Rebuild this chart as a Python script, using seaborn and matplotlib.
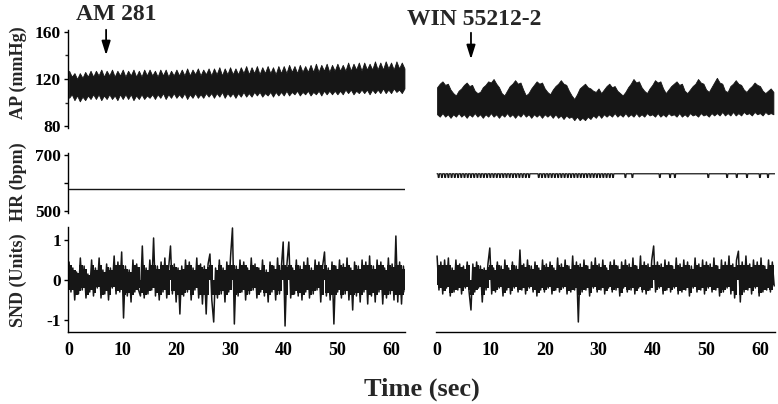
import numpy as np
import pandas as pd
import seaborn as sns
import matplotlib.pyplot as plt

# arterial pressure band (mmHg), upper / lower edge every 0.5 s
ap_step = 0.5
ap_am_upper = [
    127, 122, 125, 120, 125, 121, 126, 122, 127, 122,
    127, 123, 128, 122, 127, 123, 128, 122, 127, 123,
    128, 122, 127, 123, 128, 122, 127, 122, 128, 123,
    128, 123, 127, 122, 128, 123, 128, 122, 127, 123,
    128, 123, 128, 123, 129, 123, 128, 124, 129, 123,
    128, 124, 129, 123, 129, 124, 130, 123, 129, 124,
    130, 124, 129, 124, 130, 125, 131, 124, 130, 125,
    131, 124, 130, 125, 131, 125, 130, 124, 131, 125,
    131, 125, 132, 126, 131, 125, 132, 126, 131, 126,
    132, 126, 133, 126, 132, 127, 133, 126, 132, 127,
    133, 127, 132, 127, 134, 127, 133, 128, 134, 127,
    134, 128, 133, 128, 135, 128, 134, 128, 135, 129,
    134, 128, 135, 129, 134, 129]
ap_am_lower = [
    104, 107, 102, 106, 101, 105, 102, 106, 103, 107,
    103, 107, 102, 106, 103, 107, 103, 106, 102, 107,
    103, 107, 103, 107, 102, 106, 103, 107, 103, 106,
    104, 107, 103, 107, 104, 108, 103, 107, 104, 108,
    104, 107, 104, 108, 103, 107, 104, 108, 104, 107,
    104, 108, 105, 108, 104, 108, 105, 109, 104, 108,
    105, 108, 104, 108, 105, 109, 105, 108, 105, 109,
    106, 109, 105, 108, 106, 109, 105, 109, 106, 109,
    106, 110, 106, 109, 107, 110, 106, 109, 107, 110,
    106, 109, 107, 110, 106, 110, 107, 110, 107, 110,
    107, 110, 107, 111, 108, 111, 107, 110, 108, 111,
    108, 111, 107, 111, 108, 111, 108, 112, 108, 111,
    108, 112, 109, 111, 108, 112]
ap_win_upper = [
    113, 116, 118, 115, 116, 111, 108, 106, 110, 112,
    115, 117, 114, 115, 110, 108, 109, 113, 115, 118,
    117, 120, 116, 113, 108, 106, 110, 114, 116, 119,
    116, 117, 111, 106, 108, 112, 115, 118, 116, 117,
    112, 109, 107, 111, 114, 116, 119, 116, 115, 110,
    106, 103, 107, 112, 114, 116, 113, 112, 110, 109,
    112, 108, 111, 114, 116, 113, 114, 110, 108, 106,
    109, 113, 116, 120, 117, 118, 113, 110, 108, 112,
    115, 119, 117, 118, 112, 108, 111, 114, 116, 118,
    115, 116, 110, 108, 111, 114, 116, 120, 117, 116,
    111, 109, 113, 117, 121, 117, 116, 110, 109, 114,
    116, 119, 116, 115, 111, 109, 112, 114, 117, 115,
    114, 110, 108, 110, 112, 109]
ap_win_lower = [
    90, 88, 91, 88, 90, 87, 90, 88, 91, 88,
    90, 87, 90, 88, 91, 88, 90, 87, 90, 88,
    91, 88, 90, 87, 90, 88, 91, 88, 90, 87,
    90, 88, 91, 88, 90, 87, 90, 88, 90, 87,
    90, 88, 90, 87, 90, 87, 89, 86, 89, 87,
    88, 85, 88, 85, 87, 85, 88, 86, 89, 87,
    90, 87, 90, 88, 90, 88, 91, 88, 90, 88,
    91, 88, 90, 88, 91, 88, 90, 88, 91, 89,
    90, 88, 91, 88, 90, 88, 91, 89, 90, 88,
    91, 88, 90, 88, 91, 89, 90, 88, 91, 89,
    90, 88, 91, 89, 91, 89, 92, 89, 91, 89,
    92, 89, 91, 89, 92, 90, 91, 89, 92, 90,
    91, 89, 92, 90, 91, 90]

# heart rate (bpm)
hr_am = 579
hr_win_base = 633
hr_win_dip = 620
hr_win_dips = [
    0.3, 0.9, 1.5, 2.1, 2.7, 3.3, 3.9, 4.5, 5.1, 5.7, 6.3, 6.9, 7.5, 8.1,
    8.7, 9.3, 9.9, 10.5, 11.1, 11.7, 12.3, 12.9, 13.5, 14.1, 14.7, 15.3,
    15.9, 16.5, 17.1, 18.9, 19.5, 20.1, 20.7, 21.3, 21.9, 22.5, 23.1, 23.7,
    24.3, 24.9, 25.5, 26.1, 26.7, 27.3, 27.9, 28.5, 29.1, 29.7, 30.3, 30.9,
    31.5, 32.1, 32.7, 35.0, 36.3, 41.4, 43.3, 44.2, 50.4, 53.9, 55.7, 57.6,
    60.0, 61.5]

# sympathetic nerve discharge (units), every 0.35 s
snd_step = 0.35
snd_am = [
    0.45, -0.3, 0.3, -0.5, 0.2, -0.35, 0.55, -0.25, 0.35, -0.45,
    0.15, -0.3, 0.5, -0.4, 0.3, -0.2, 0.55, -0.45, 0.25, -0.35,
    0.4, -0.5, 0.3, -0.2, 0.6, -0.35, 0.45, -0.3, 0.7, -0.95,
    0.35, -0.4, 0.25, -0.55, 0.5, -0.3, 0.4, -0.25, -0.4, 0.85,
    -0.45, 0.3, -0.35, 0.5, -0.25, 1.05, -0.4, 0.35, -0.5, 0.45,
    -0.3, 0.55, -0.45, 0.3, 0.85, -0.35, 0.4, -0.55, 0.3, -0.85,
    0.35, -0.4, 0.5, -0.3, 0.45, -0.5, 0.3, -0.25, 0.55, -0.45,
    0.4, -0.6, 0.35, -0.85, 0.4, 0.65, -0.5, -1.05, 0.3, -0.45,
    0.5, -0.35, 0.3, -0.55, 0.45, -0.3, 0.6, 1.3, -1.1, 0.35,
    -0.4, 0.5, -0.3, 0.45, -0.5, 0.3, -0.35, 0.55, -0.25, 0.4,
    -0.45, 0.3, -0.3, 0.5, -0.4, 0.25, -0.55, 0.45, -0.3, 0.35,
    -0.5, 0.55, -0.35, 0.3, 0.95, -1.15, 0.4, 0.95, -0.45, 0.3,
    -0.35, 0.5, -0.4, 0.35, -0.5, 0.45, -0.3, 0.55, -0.45, 0.3,
    -0.35, 0.5, -0.25, 0.45, -0.55, 0.35, 0.7, -0.4, 0.3, -0.5,
    0.45, -1.1, 0.35, -0.3, 0.5, -0.45, 0.4, -0.35, 0.55, -0.5,
    0.3, -0.75, 0.45, -0.4, 0.35, -0.55, 0.5, -0.3, 0.45, -0.6,
    0.6, -0.4, 0.35, -0.55, 0.5, -0.3, 0.45, -0.6, 0.3, -0.45,
    0.55, -0.35, 0.4, -0.5, 1.1, -0.55, 0.45, -0.6, 0.35, -0.3]
snd_win = [
    0.6, -0.25, 0.45, -0.35, 0.5, -0.2, 0.55, -0.4, 0.3, -0.3,
    0.5, -0.25, 0.4, -0.35, 0.35, -0.2, 0.45, -0.3, -0.75, 0.4,
    -0.3, 0.45, -0.2, 0.35, -0.55, 0.3, -0.25, 0.4, 0.8, -0.35,
    0.3, -0.3, 0.45, -0.2, 0.35, -0.4, 0.5, -0.25, 0.3, -0.35,
    0.45, -0.2, 0.35, -0.3, 0.75, -0.25, 0.4, -0.35, 0.5, -0.2,
    0.35, -0.3, 0.45, -0.4, 0.3, -0.25, 0.5, -0.3, 0.4, -0.2,
    0.45, -0.35, 0.3, -0.25, 0.55, -0.3, 0.4, -0.2, 0.5, -0.35,
    0.35, -0.3, 0.6, -0.25, 0.45, -1.05, 0.4, -0.3, 0.5, -0.25,
    0.35, -0.4, 0.45, -0.2, 0.55, -0.3, 0.4, -0.25, 0.5, -0.35,
    0.3, -0.2, 0.45, -0.3, 0.5, -0.25, 0.35, -0.4, 0.45, -0.2,
    0.5, -0.3, 0.4, -0.25, 0.55, -0.35, 0.35, -0.2, 0.6, -0.3,
    0.45, -0.35, 0.4, -0.25, 0.5, 0.85, -0.3, 0.45, -0.2, 0.4,
    -0.35, 0.5, -0.25, 0.45, -0.3, 0.35, -0.2, 0.55, -0.35, 0.4,
    -0.3, 0.5, -0.25, 0.45, -0.4, 0.35, -0.2, 0.55, -0.3, 0.4,
    -0.25, 0.5, -0.35, 0.45, -0.2, 0.4, -0.3, 0.55, -0.25, 0.35,
    -0.4, 0.5, -0.3, 0.45, -0.2, 0.6, -0.35, 0.4, -0.45, 0.5,
    0.72, -0.55, 0.45, -0.3, 0.6, -0.25, 0.4, -0.35, 0.5, -0.2,
    0.45, -0.4, 0.55, -0.3, 0.35, -0.25, 0.5, -0.3, 0.45, -0.15]

am281_time = 6.9
win_time = 6.3

sns.set_style("white")
plt.rcParams['font.family'] = ['Liberation Serif', 'DejaVu Serif']
plt.rcParams['font.weight'] = 'bold'
plt.rcParams['axes.linewidth'] = 1.0

W, H = 778, 404
fig = plt.figure(figsize=(W / 100, H / 100), dpi=100)
INK = '#161616'


def px_axes(left, top, right, bottom):
    return fig.add_axes([left / W, 1 - bottom / H, (right - left) / W, (bottom - top) / H])


def trace(values, step):
    return pd.DataFrame({'t': np.arange(len(values)) * step, 'v': values})


def dense_core(v, cap=0.45, frac=0.82):
    # the solid middle of the recording, following the neighbouring peaks
    v = np.asarray(v, dtype=float)
    pos, neg = np.maximum(v, 0), np.minimum(v, 0)
    up = np.minimum(np.maximum(pos, np.roll(pos, 1)), cap) * frac
    lo = np.maximum(np.minimum(neg, np.roll(neg, 1)), -cap) * frac
    return lo, up


def hr_steps(dips, base, low, t_end):
    t, v = [0.0], [base]
    for d in dips:
        t += [d - 0.14, d - 0.07, d + 0.07, d + 0.14]
        v += [base, low, low, base]
    t.append(t_end)
    v.append(base)
    return pd.DataFrame({'t': t, 'v': v})


rows = {'ap': (29.6, 128.4), 'hr': (152.8, 213.2), 'snd': (226.8, 332.0)}
cols = {'am': (68, 405, (-0.2, 62.6)), 'win': (436, 775, (-0.2, 62.8))}

axes = {}
for c, (x0, x1, xl) in cols.items():
    for r, (y0, y1) in rows.items():
        ax = px_axes(x0, y0, x1, y1)
        ax.set_xlim(*xl)
        for s in ax.spines.values():
            s.set_visible(False)
            s.set_color('black')
        ax.tick_params(axis='both', colors='black', labelsize=12.5,
                       direction='out', length=3, width=1, pad=2)
        axes[(c, r)] = ax

# AP
for c, up, lo in [('am', ap_am_upper, ap_am_lower), ('win', ap_win_upper, ap_win_lower)]:
    ax = axes[(c, 'ap')]
    t = np.arange(len(up)) * ap_step
    ax.fill_between(t, lo, up, color=INK, lw=0.6)
    ax.set_ylim(78, 162)

# HR
ax = axes[('am', 'hr')]
sns.lineplot(data=pd.DataFrame({'t': [0, 62.6], 'v': [hr_am, hr_am]}), x='t', y='v',
             ax=ax, color=INK, lw=1.0, estimator=None)
ax = axes[('win', 'hr')]
sns.lineplot(data=hr_steps(hr_win_dips, hr_win_base, hr_win_dip, 62.8), x='t', y='v',
             ax=ax, color=INK, lw=0.9, estimator=None, sort=False)
for c in cols:
    axes[(c, 'hr')].set_ylim(492, 708)

# SND
for c, vals in [('am', snd_am), ('win', snd_win)]:
    ax = axes[(c, 'snd')]
    df = trace(vals, snd_step)
    lo, up = dense_core(vals)
    ax.fill_between(df['t'], lo, up, step='mid', color=INK, lw=0)
    sns.lineplot(data=df, x='t', y='v', ax=ax, color=INK,
                 lw=1.1, estimator=None, sort=False)
    ax.set_ylim(-1.3, 1.33)
    ax.spines['bottom'].set_visible(True)
    ax.set_xticks(range(0, 61, 10))
    ax.tick_params(axis='x', direction='inout', length=4, labelsize=13, pad=5)

for ax in axes.values():
    ax.set_xlabel('')
    ax.set_ylabel('')
    if ax not in (axes[('am', 'snd')], axes[('win', 'snd')]):
        ax.set_xticks([])

# left y axes
axes[('am', 'ap')].set_yticks([80, 120, 160])
axes[('am', 'ap')].set_yticks([100, 140], minor=True)
axes[('am', 'ap')].tick_params(axis='y', which='minor', direction='out', length=2, width=1, left=True)
axes[('am', 'hr')].set_yticks([500, 600, 700], ['500', '', '700'])
axes[('am', 'snd')].set_yticks([-1, 0, 1], ['-1', '0', '1'])
for r in rows:
    axes[('am', r)].spines['left'].set_visible(True)
    axes[('am', r)].tick_params(axis='y', left=True)
    axes[('win', r)].set_yticks([])

# labels
for txt, yc in [('AP (mmHg)', 73), ('HR (bpm)', 182), ('SND (Units)', 280)]:
    fig.text(18 / W, 1 - yc / H, txt, rotation=90, ha='center', va='center',
             fontsize=13, fontweight='bold')
fig.text(422 / W, 1 - 396 / H, 'Time (sec)', ha='center', va='baseline',
         fontsize=19, fontweight='bold')

# drug markers
for c, name, tm, base, tip, tail in [('am', 'AM 281', am281_time, 20, 58, 27),
                                      ('win', 'WIN 55212-2', win_time, 25, 62, 30)]:
    ax = axes[(c, 'ap')]
    ax.annotate('', xy=(tm, H - tip), xycoords=('data', 'figure pixels'),
                xytext=(tm, H - tail), textcoords=('data', 'figure pixels'),
                arrowprops=dict(arrowstyle='-|>,head_length=0.7,head_width=0.22',
                                color='black', lw=1.3, mutation_scale=12),
                annotation_clip=False)
    xc = {'am': 116.5, 'win': 474}[c]
    fig.text(xc / W, 1 - base / H, name, ha='center', va='baseline',
             fontsize=17, fontweight='bold')

fig.savefig('out.png', dpi=100)
